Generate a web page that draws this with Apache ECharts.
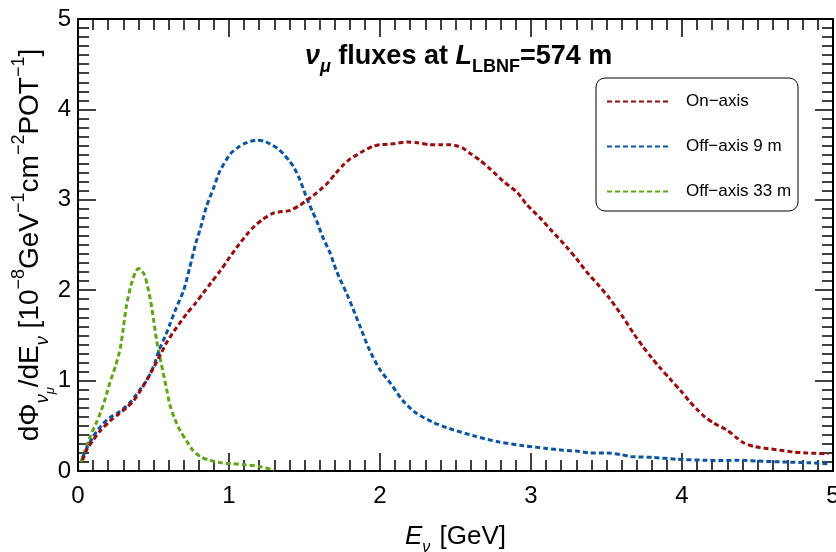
<!DOCTYPE html>
<html>
<head>
<meta charset="utf-8">
<script src="https://cdn.jsdelivr.net/npm/echarts@6/dist/echarts.min.js"></script>
<style>
  html, body { margin: 0; padding: 0; background: #fff; }
  #chart { width: 836px; height: 552px; }
</style>
</head>
<body>
<div id="chart"></div>
<script>
// Neutrino energy (GeV) and flux (10^-8 GeV^-1 cm^-2 POT^-1) for each beam position
const onAxisE = [0.03,0.06,0.10,0.15,0.21,0.27,0.32,0.37,0.41,0.46,0.50,0.55,0.59,0.65,0.72,0.78,0.83,0.88,0.94,0.99,1.05,1.12,1.17,1.22,1.29,1.35,1.40,1.47,1.52,1.56,1.61,1.65,1.71,1.76,1.80,1.85,1.89,1.95,2.00,2.09,2.18,2.25,2.33,2.40,2.46,2.50,2.55,2.60,2.66,2.73,2.82,2.91,2.97,3.06,3.13,3.24,3.30,3.37,3.45,3.52,3.61,3.68,3.74,3.80,3.85,3.92,3.99,4.05,4.10,4.15,4.21,4.30,4.36,4.41,4.48,4.56,4.65,4.74,4.82,4.89,4.97];
const onAxisFlux = [0.12,0.24,0.34,0.45,0.55,0.63,0.70,0.78,0.88,1.02,1.14,1.30,1.43,1.58,1.74,1.86,1.97,2.08,2.21,2.33,2.47,2.62,2.71,2.78,2.85,2.87,2.88,2.94,3.00,3.05,3.12,3.18,3.30,3.39,3.45,3.50,3.54,3.59,3.61,3.62,3.64,3.63,3.61,3.61,3.61,3.60,3.57,3.51,3.44,3.34,3.20,3.08,2.95,2.80,2.67,2.47,2.35,2.20,2.05,1.91,1.70,1.52,1.38,1.25,1.15,1.02,0.89,0.77,0.68,0.60,0.53,0.45,0.37,0.31,0.27,0.25,0.23,0.21,0.20,0.195,0.19];

const off9E = [0.03,0.06,0.10,0.14,0.17,0.21,0.26,0.30,0.34,0.38,0.41,0.45,0.48,0.51,0.54,0.58,0.61,0.65,0.70,0.74,0.78,0.81,0.85,0.90,0.94,1.01,1.06,1.10,1.18,1.23,1.27,1.32,1.36,1.40,1.43,1.47,1.51,1.55,1.58,1.62,1.67,1.71,1.78,1.82,1.87,1.93,2.00,2.07,2.15,2.24,2.35,2.46,2.62,2.79,2.95,3.10,3.21,3.30,3.39,3.50,3.60,3.66,3.81,3.96,4.14,4.27,4.36,4.50,4.67,4.85,4.98];
const off9Flux = [0.15,0.26,0.38,0.47,0.53,0.59,0.64,0.69,0.75,0.83,0.90,0.99,1.08,1.20,1.35,1.50,1.63,1.80,2.00,2.25,2.52,2.68,2.92,3.14,3.32,3.51,3.58,3.62,3.66,3.65,3.62,3.57,3.51,3.43,3.36,3.22,3.04,2.88,2.77,2.59,2.41,2.22,1.96,1.80,1.59,1.34,1.12,0.97,0.78,0.64,0.54,0.47,0.39,0.32,0.28,0.25,0.23,0.22,0.20,0.20,0.18,0.16,0.15,0.13,0.12,0.115,0.12,0.11,0.10,0.09,0.08];

const off33E = [0.02,0.04,0.08,0.12,0.15,0.18,0.21,0.25,0.28,0.30,0.32,0.35,0.38,0.40,0.42,0.44,0.46,0.48,0.50,0.52,0.54,0.565,0.59,0.61,0.64,0.675,0.72,0.76,0.81,0.87,0.95,1.03,1.10,1.20,1.30];
const off33Flux = [0.10,0.20,0.38,0.53,0.65,0.80,0.97,1.17,1.36,1.58,1.82,2.05,2.20,2.24,2.22,2.17,2.05,1.89,1.68,1.45,1.28,1.08,0.88,0.72,0.58,0.45,0.33,0.23,0.16,0.12,0.09,0.08,0.07,0.05,0.01];

const seriesNames = ['On\u2212axis', 'Off\u2212axis 9 m', 'Off\u2212axis 33 m'];
const seriesColors = ['#9c0b0b', '#0b56a4', '#5ea616'];
const xTicks = [0, 1, 2, 3, 4, 5];
const yTicks = [0, 1, 2, 3, 4, 5];

const FONT = '"Liberation Sans", Arial, Helvetica, sans-serif';

function pairs(xs, ys) {
  return xs.map((x, i) => [x, ys[i]]);
}

function frameAxis(position, showLabels, ticks) {
  return {
    type: 'value',
    position: position,
    min: ticks[0],
    max: ticks[ticks.length - 1],
    interval: 1,
    axisLine: { show: true, onZero: false, lineStyle: { color: '#000', width: 2 } },
    axisTick: { show: true, inside: true, length: 18, lineStyle: { color: '#000', width: 1.5 } },
    minorTick: { show: true, splitNumber: 10, length: 11, lineStyle: { color: '#000', width: 1.5 } },
    splitLine: { show: false },
    minorSplitLine: { show: false },
    axisLabel: {
      show: showLabels, color: '#000', fontFamily: FONT, fontSize: 24, margin: 13
    }
  };
}

const xBottom = frameAxis('bottom', true, xTicks);
xBottom.name = '{e|E}{sub|\u03bd}{n| [GeV]}';
xBottom.nameLocation = 'middle';
xBottom.nameGap = 53;
xBottom.nameMoveOverlap = false;
xBottom.nameTextStyle = {
  color: '#000', fontFamily: FONT,
  rich: {
    e: { fontSize: 26, fontStyle: 'italic', fontFamily: FONT, color: '#000' },
    sub: { fontSize: 16, fontStyle: 'italic', fontFamily: FONT, color: '#000', verticalAlign: 'bottom', padding: [0, 2, -6, 0] },
    n: { fontSize: 26, fontFamily: FONT, color: '#000' }
  }
};
const xTop = frameAxis('top', false, xTicks);

const yLeft = frameAxis('left', true, yTicks);
yLeft.axisLabel.margin = 7;
yLeft.name = '{t|d\u03a6}{s|\u03bd}{ss|\u03bc}{t|/dE}{s|\u03bd}{t| [10}{p|\u22128}{t|GeV}{p|\u22121}{t|cm}{p|\u22122}{t|POT}{p|\u22121}{t|]}';
yLeft.nameLocation = 'middle';
yLeft.nameRotate = 90;
yLeft.nameGap = 31;
yLeft.nameMoveOverlap = false;
yLeft.nameTextStyle = {
  color: '#000', fontFamily: FONT,
  rich: {
    t: { fontSize: 28, fontFamily: FONT, color: '#000', lineHeight: 34 },
    s: { fontSize: 18, fontStyle: 'italic', fontFamily: FONT, color: '#000', verticalAlign: 'bottom', padding: [0, 0, -5, 0] },
    ss: { fontSize: 13, fontStyle: 'italic', fontFamily: FONT, color: '#000', verticalAlign: 'bottom', padding: [0, 0, -10, 0] },
    p: { fontSize: 18, fontFamily: FONT, color: '#000', verticalAlign: 'top', padding: [-3, 0, 0, 0] }
  }
};
const yRight = frameAxis('right', false, yTicks);

function lineSeries(i, data) {
  return {
    name: seriesNames[i],
    type: 'line',
    xAxisIndex: 0,
    yAxisIndex: 0,
    data: data,
    showSymbol: false,
    symbol: 'none',
    smooth: 0.25,
    color: seriesColors[i],
    lineStyle: { color: seriesColors[i], width: 3, type: [5, 3] },
    z: 3 - i
  };
}

const chart = echarts.init(document.getElementById('chart'), null, { renderer: 'canvas' });
chart.setOption({
  animation: false,
  backgroundColor: '#fff',
  textStyle: { fontFamily: FONT },
  title: {
    text: '{nu|\u03bd}{sub|\u03bc}{b| fluxes at }{l|L}{lsub|LBNF}{b|=574 m}',
    left: 300,
    top: 38,
    textStyle: {
      rich: {
        nu: { fontSize: 27, fontWeight: 'bold', fontStyle: 'italic', fontFamily: FONT, color: '#000' },
        sub: { fontSize: 18, fontWeight: 'bold', fontStyle: 'italic', fontFamily: FONT, color: '#000', verticalAlign: 'bottom', padding: [0, 0, -6, 0] },
        b: { fontSize: 27, fontWeight: 'bold', fontFamily: FONT, color: '#000' },
        l: { fontSize: 27, fontWeight: 'bold', fontStyle: 'italic', fontFamily: FONT, color: '#000' },
        lsub: { fontSize: 18, fontWeight: 'bold', fontFamily: FONT, color: '#000', verticalAlign: 'bottom', padding: [0, 0, -6, 0] }
      }
    }
  },
  legend: {
    orient: 'vertical',
    left: 596,
    top: 78,
    padding: [15, 7, 11, 10],
    itemWidth: 62,
    itemHeight: 14,
    itemGap: 28,
    borderColor: '#000',
    borderWidth: 1,
    borderRadius: 9,
    backgroundColor: '#fff',
    itemStyle: { opacity: 0 },
    textStyle: { fontSize: 17, color: '#000', fontFamily: FONT, padding: [0, 0, 0, 12] },
    data: seriesNames
  },
  grid: { left: 78, right: 3, top: 19, bottom: 81, containLabel: false, outerBoundsMode: 'none' },
  xAxis: [xBottom, xTop],
  yAxis: [yLeft, yRight],
  series: [
    lineSeries(0, pairs(onAxisE, onAxisFlux)),
    lineSeries(1, pairs(off9E, off9Flux)),
    lineSeries(2, pairs(off33E, off33Flux))
  ]
});
</script>
</body>
</html>
